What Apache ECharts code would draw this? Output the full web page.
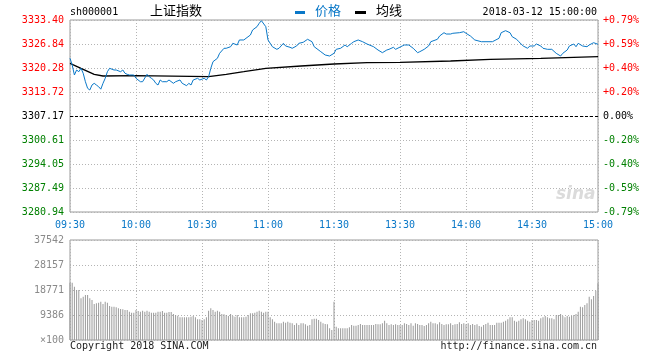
<!DOCTYPE html>
<html><head><meta charset="utf-8">
<script src="https://cdn.jsdelivr.net/npm/echarts@6/dist/echarts.min.js"></script>
<style>html,body{margin:0;padding:0;background:#fff}#c{width:660px;height:360px}</style>
</head><body><div id="c"></div>
<script>
const timeLabels = ['09:30','10:00','10:30','11:00','11:30','13:30','14:00','14:30','15:00'];
const priceLabels = ['3280.94','3287.49','3294.05','3300.61','3307.17','3313.72','3320.28','3326.84','3333.40'];
const pctLabels = ['-0.79%','-0.59%','-0.40%','-0.20%','0.00%','+0.20%','+0.40%','+0.59%','+0.79%'];
const volLabels = ['\u00d7100','9386','18771','28157','37542'];
const basePrice = 3307.17;

const priceMinutes = [0,1,2,3,4,5,6,7,8,9,10,11,12,13,14,15,16,17,18,20,21,23,24,25,26,27,29,30,32,33,35,36,37,38,39,40,41,42,44,45,47,48,50,51,53,54,55,56,58,59,61,62,63,64,65,67,68,70,71,73,74,76,77,79,80,82,83,85,86,87,89,90,92,94,95,97,98,100,101,103,104,106,108,110,111,114,116,118,120,121,123,125,126,128,129,131,133,135,138,140,142,144,145,147,148,151,152,154,156,158,159,161,163,164,167,168,170,171,173,174,177,179,180,182,184,187,190,192,195,196,198,200,201,203,204,206,208,209,211,212,214,215,217,219,221,223,224,226,227,229,230,231,233,235,236,238,240];
const priceValues = [3322.94,3321.10,3318.37,3319.74,3319.27,3320.20,3318.84,3316.54,3314.74,3314.27,3315.64,3316.10,3315.64,3315.18,3314.50,3316.10,3317.47,3319.27,3320.20,3319.74,3319.74,3319.27,3319.74,3318.84,3318.56,3318.37,3318.37,3317.47,3316.54,3316.54,3318.56,3317.91,3317.47,3317.01,3316.10,3315.64,3317.01,3316.54,3316.54,3317.01,3316.10,3316.54,3317.01,3316.10,3315.45,3316.10,3315.64,3317.01,3317.47,3317.01,3317.47,3317.01,3317.91,3320.20,3322.01,3322.94,3324.30,3325.67,3325.67,3326.10,3327.03,3326.57,3327.94,3327.94,3328.40,3329.30,3330.67,3331.57,3332.50,3333.21,3331.57,3327.94,3326.10,3325.39,3325.67,3327.03,3326.30,3325.94,3325.67,3326.30,3327.03,3327.31,3328.13,3327.47,3326.10,3324.74,3323.84,3323.56,3324.30,3325.39,3325.67,3326.57,3326.10,3327.03,3327.47,3327.94,3327.47,3326.84,3326.10,3325.20,3324.47,3325.20,3325.39,3325.94,3325.39,3326.30,3326.57,3326.57,3325.67,3324.47,3324.74,3325.39,3326.30,3327.47,3328.13,3329.03,3329.93,3329.57,3329.57,3329.77,3329.93,3330.20,3329.77,3329.03,3327.94,3327.47,3327.47,3327.47,3328.40,3329.93,3330.48,3329.93,3328.84,3328.13,3327.47,3326.30,3325.67,3326.30,3326.30,3326.84,3326.30,3325.67,3325.39,3325.39,3324.30,3323.56,3324.30,3325.20,3326.30,3326.84,3326.10,3327.03,3326.30,3326.10,3326.57,3327.20,3326.76];

const avgMinutes = [0,5,11,15,30,63,71,79,86,89,105,120,135,150,173,191,214,240];
const avgValues = [3321.57,3320.20,3318.56,3318.10,3318.20,3317.91,3318.56,3319.27,3319.93,3320.20,3320.83,3321.38,3321.73,3321.84,3322.20,3322.66,3322.94,3323.37];

const volumeValues = [21524,
21524,20022,18771,18771,15643,16268,16894,16894,15643,15017,
13515,13765,14016,14391,13515,14391,14016,12764,12514,12514,
12264,11888,11638,11513,11263,11263,10637,10261,10261,11263,
10887,10637,11012,10637,11012,10637,10261,10261,10261,10637,
10637,10887,10261,10261,10512,10512,9761,9386,9135,8510,
8510,8510,8510,8510,8760,9010,8510,7759,7759,7508,
7759,8510,11012,11888,11263,10637,11012,10637,9761,9636,
9386,9010,9761,9010,8760,9386,8510,8510,8510,8760,
9386,10011,10011,10261,10637,11012,10637,10261,10637,10637,
8510,7759,6883,6257,6257,6257,6883,6507,6883,6507,
6257,5631,6257,5631,6257,6257,5882,5381,5631,7759,
8009,8009,7508,6883,6257,6007,5882,4380,3754,14391,
5006,4380,4380,4380,4380,4380,4755,5631,5381,5381,
5631,6007,5631,5631,5631,5631,5631,5631,6007,5882,
5882,6257,7258,6257,5631,5882,5631,5882,5631,5631,5631,
6257,6007,5631,6257,5381,6257,6007,5631,5631,5256,
5631,6257,6883,6257,6257,5882,6632,6007,5631,5882,
5882,6257,5631,5882,6007,6632,6007,6257,5882,6257,5631,
6007,5631,5882,5256,5006,5631,6007,6507,5631,5631,
5631,6507,6507,6507,6883,7258,7759,8510,8510,7258,
6883,7258,7759,8134,7759,7258,6883,7508,7508,7508,
7258,8134,8510,9010,8510,8134,8134,7759,9386,9386,
9761,9010,8510,9010,8760,9010,9386,9761,10637,12514,
12264,13140,13765,16268,15267,16518,18521,21274];

const MONO = '"DejaVu Sans Mono", monospace';
const CJK = '"Noto Sans CJK SC", sans-serif';
const pMin = 3280.94, pMax = 3333.40, pInt = (pMax - pMin) / 8;
const vMax = 37542, vInt = vMax / 4;
function pIdx(v){ return Math.round((v - pMin) / pInt); }
function pColor(v){ const i = pIdx(v); return i > 4 ? '#ff0000' : (i < 4 ? '#008000' : '#000000'); }

const chart = echarts.init(document.getElementById('c'), null, {renderer:'canvas'});
const dotted = {show:true, lineStyle:{color:'#b4b4b4', type:[1,2], width:1}};
chart.setOption({
  animation:false,
  backgroundColor:'#ffffff',
  grid:[
    {left:70, top:20, width:528, height:192, show:true, borderColor:'#9a9a9a', borderWidth:1, backgroundColor:'transparent'},
    {left:70, top:240, width:528, height:100, show:true, borderColor:'#9a9a9a', borderWidth:1, backgroundColor:'transparent'}
  ],
  xAxis:[
    {type:'value', gridIndex:0, min:0, max:240, interval:30,
     axisLine:{show:false}, axisTick:{show:false}, splitLine:dotted,
     axisLabel:{show:true, margin:8, color:'#0a78c8', fontFamily:MONO, fontSize:10,
       formatter:function(v){ return timeLabels[Math.round(v/30)] || ''; }}},
    {type:'value', gridIndex:1, min:0, max:240, interval:30,
     axisLine:{show:false}, axisTick:{show:false}, splitLine:dotted, axisLabel:{show:false}}
  ],
  yAxis:[
    {type:'value', gridIndex:0, min:pMin, max:pMax, interval:pInt,
     axisLine:{show:false}, axisTick:{show:false}, splitLine:dotted,
     axisLabel:{margin:6, fontFamily:MONO, fontSize:10, color:function(v){return pColor(v);},
       formatter:function(v){ return priceLabels[pIdx(v)] || ''; }}},
    {type:'value', gridIndex:0, position:'right', min:pMin, max:pMax, interval:pInt,
     axisLine:{show:false}, axisTick:{show:false}, splitLine:{show:false},
     axisLabel:{margin:5, fontFamily:MONO, fontSize:10, color:function(v){return pColor(v);},
       formatter:function(v){ return pctLabels[pIdx(v)] || ''; }}},
    {type:'value', gridIndex:1, min:0, max:vMax, interval:vInt,
     axisLine:{show:false}, axisTick:{show:false}, splitLine:dotted,
     axisLabel:{margin:6, fontFamily:MONO, fontSize:10, color:'#8a8a8a',
       formatter:function(v){ return volLabels[Math.round(v/vInt)] || ''; }}}
  ],
  series:[
    {type:'bar', xAxisIndex:1, yAxisIndex:2, barWidth:1, itemStyle:{color:'#9a9a9a'},
     data: volumeValues.map(function(v,i){return [i,v];}), silent:true},
    {type:'line', xAxisIndex:0, yAxisIndex:0, showSymbol:false, silent:true,
     lineStyle:{color:'#000000', width:1.3},
     data: avgMinutes.map(function(m,i){return [m, avgValues[i]];}),
     markLine:{silent:true, symbol:'none', label:{show:false},
       lineStyle:{color:'#000000', type:[3,2], width:1},
       data:[{yAxis:basePrice}]}},
    {type:'line', xAxisIndex:0, yAxisIndex:0, showSymbol:false, silent:true,
     lineStyle:{color:'#0a78c8', width:1},
     data: priceMinutes.map(function(m,i){return [m, priceValues[i]];})}
  ],
  graphic:[
    {type:'text', left:70, top:7, style:{text:'sh000001', font:'10px '+MONO, fill:'#000'}},
    {type:'text', left:150, top:4, style:{text:'上证指数', font:'13px '+CJK, fill:'#000'}},
    {type:'rect', shape:{x:295, y:11, width:10, height:3}, style:{fill:'#0a78c8'}},
    {type:'text', left:315, top:4, style:{text:'价格', font:'13px '+CJK, fill:'#0a78c8'}},
    {type:'rect', shape:{x:355, y:11, width:11, height:3}, style:{fill:'#000'}},
    {type:'text', left:376, top:4, style:{text:'均线', font:'13px '+CJK, fill:'#000'}},
    {type:'text', right:63, top:7, style:{text:'2018-03-12 15:00:00', font:'10px '+MONO, fill:'#000'}},
    {type:'text', left:70, top:341, style:{text:'Copyright 2018 SINA.COM', font:'10px '+MONO, fill:'#222'}},
    {type:'text', right:63, top:341, style:{text:'http://finance.sina.com.cn', font:'10px '+MONO, fill:'#222'}},
    {type:'text', left:556, top:186, style:{text:'sina', font:'italic bold 17px "DejaVu Sans", sans-serif', fill:'rgba(190,190,190,0.55)'}}
  ]
});
</script></body></html>
